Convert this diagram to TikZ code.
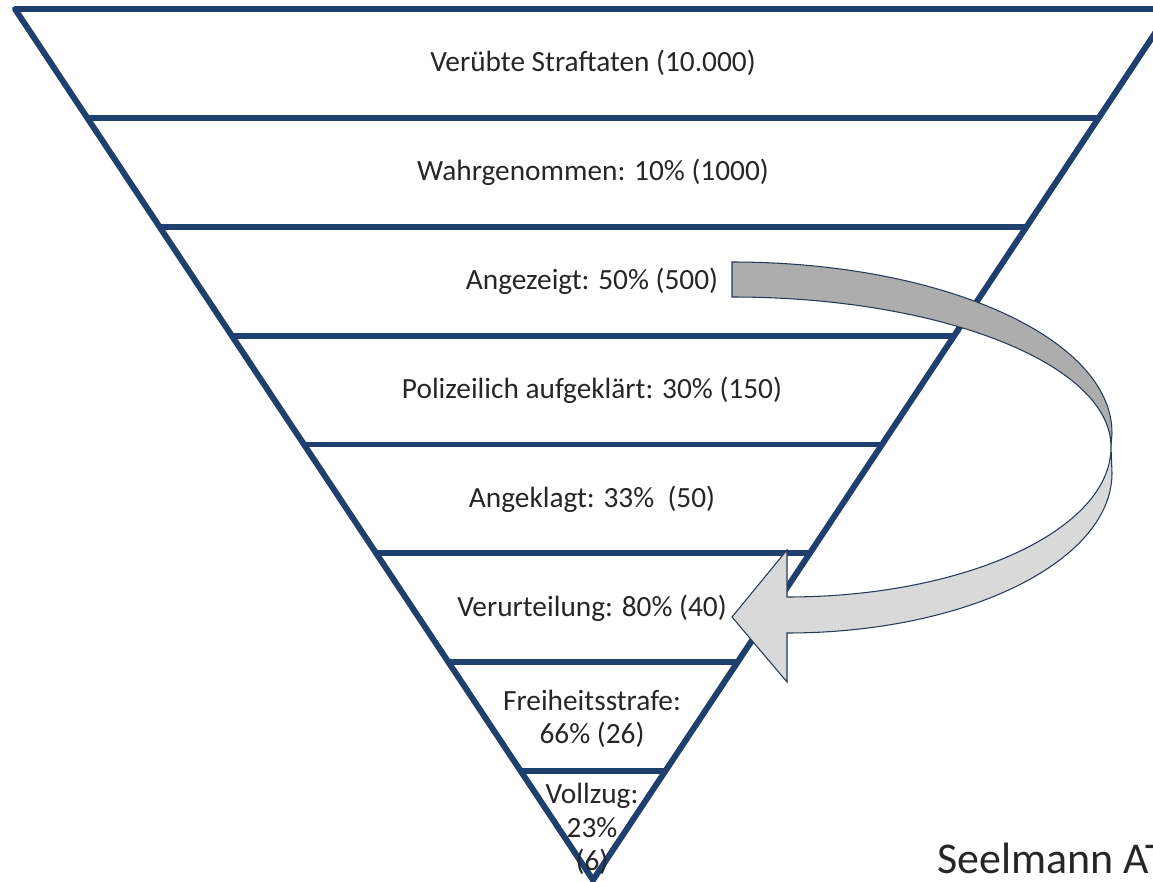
\documentclass[tikz,border=0pt]{standalone}
\usepackage{fontspec}
\setmainfont{Carlito}
\usetikzlibrary{calc}
\definecolor{funnelblue}{HTML}{1F3F6E}
\definecolor{arrowdark}{HTML}{ADADAD}
\definecolor{arrowlight}{HTML}{D9D9D9}
\definecolor{arrowedge}{HTML}{263A55}
\definecolor{txt}{HTML}{262626}
\tikzset{
  funnelline/.style={
    draw=funnelblue, line width=3.4pt, line join=round
  },
  bandlabel/.style={
    font=\fontsize{16.7}{19}\selectfont, text=txt, align=center,
    inner sep=0pt
  },
  bandarrow/.style={
    fill=#1, draw=arrowedge, line width=0.6pt, line join=miter
  },
  bandarrow/.default=arrowdark,
  creditlabel/.style={
    font=\fontsize{25}{30}\selectfont, text=txt, inner sep=0pt,
    anchor=base west
  },
}

\begin{document}
\begin{tikzpicture}[x=0.02cm, y=-0.02cm]
  \useasboundingbox (0,0) rectangle (1153,882);
  \clip (0,0) rectangle (1153,882);
  % funnel
  \coordinate (tl) at (15,9);
  \coordinate (tr) at (1171,9);
  \coordinate (apex) at (593,880);
  \draw[funnelline] (1200,9) -- (tl) -- (apex) -- (tr);
  \foreach \k in {1,...,7}
    \draw[funnelline] ($(tl)!\k/8!(apex)$) -- ($(tr)!\k/8!(apex)$);
  % bands
  \node[bandlabel] (straftaten) at (593,63) {Verübte Straftaten (10.000)};
  \node[bandlabel] (wahrgenommen) at (593,172) {Wahrgenommen: 10\% (1000)};
  \node[bandlabel] (angezeigt) at (592,281) {Angezeigt: 50\% (500)};
  \node[bandlabel] (aufgeklaert) at (592,390) {Polizeilich aufgeklärt: 30\% (150)};
  \node[bandlabel] (angeklagt) at (592,499) {Angeklagt: 33\%~ (50)};
  \node[bandlabel] (verurteilung) at (592,608) {Verurteilung: 80\% (40)};
  \node[bandlabel] (freiheit) at (592,719) {Freiheitsstrafe:\\66\% (26)};
  \node[bandlabel] (vollzug) at (592,829) {Vollzug:\\23\%\\(6)};
  % curved arrow
  \coordinate (tailtop) at (732,262);
  \coordinate (tailbot) at (732,297);
  \coordinate (turnout) at (1112,433);
  \coordinate (turnin) at (1111,447);
  \coordinate (turnlow) at (1112,473);
  \coordinate (neckin) at (787,597);
  \coordinate (neckout) at (787,633);
  \coordinate (barbtop) at (787,550);
  \coordinate (barbbot) at (787,682);
  \coordinate (tip) at (732,617);
  \path[bandarrow] (tailtop) .. controls (942,262) and (1112,338) .. (turnout)
    -- (turnin) .. controls (1111,364) and (941,297) .. (tailbot) -- cycle;
  \path[bandarrow=arrowlight] (turnin) .. controls (1111,530) and (965,597) .. (neckin)
    -- (barbtop) -- (tip) -- (barbbot) -- (neckout)
    .. controls (967,633) and (1112,561) .. (turnlow) -- cycle;
  \node[creditlabel] (credit) at (937,873) {Seelmann AT};
\end{tikzpicture}
\end{document}
